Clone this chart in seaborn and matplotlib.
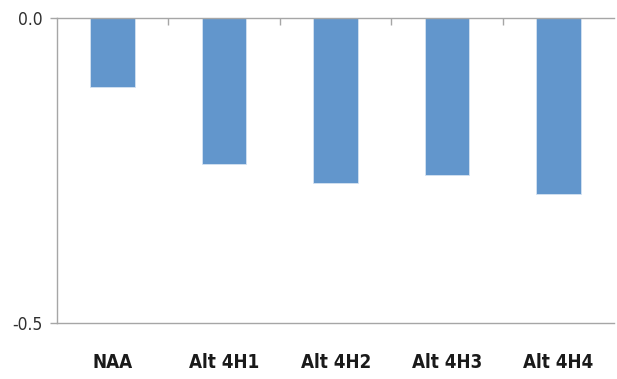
import matplotlib
matplotlib.use("Agg")
import matplotlib.pyplot as plt
import seaborn as sns

# data
categories = ['NAA', 'Alt 4H1', 'Alt 4H2', 'Alt 4H3', 'Alt 4H4']
values = [-0.113, -0.239, -0.271, -0.258, -0.289]
ytick_values = [0.0, -0.5]
ytick_labels = ['0.0', '-0.5']

sns.set_style('white')
plt.rcParams['font.family'] = ['DejaVu Sans']
plt.rcParams['font.stretch'] = 'condensed'

fig = plt.figure(figsize=(6.17, 3.79), dpi=100)
ax = fig.add_axes([0.0924, 0.1485, 0.9032, 0.8032])

sns.barplot(x=categories, y=values, color='#6296cc', saturation=1,
            width=0.4, edgecolor='#d5e2f2', linewidth=0.6, ax=ax)

ax.set_ylim(-0.5, 0)
ax.set_xlim(-0.5, len(categories) - 0.5)
ax.set_yticks(ytick_values)
ax.set_yticklabels(ytick_labels, fontsize=12.5, color='#303030',
                   fontstretch='condensed')
ax.set_xlabel('')
ax.set_ylabel('')

# category labels at the bottom, far below the plot
ax.tick_params(axis='x', which='major', length=0, pad=22, labelsize=13.5)
for lab in ax.get_xticklabels():
    lab.set_fontweight('bold')
    lab.set_fontstretch('condensed')
    lab.set_color('#1a1a1a')
ax.tick_params(axis='y', length=5, width=1, color='#a6a6a6', pad=5, left=True)

# tick marks between categories on the zero line
ax.set_xticks([0.5, 1.5, 2.5, 3.5], minor=True)
ax.tick_params(axis='x', which='minor', top=True, bottom=False,
               direction='in', length=5, width=1, color='#a6a6a6')

for side in ['top', 'bottom', 'left']:
    ax.spines[side].set_color('#a6a6a6')
    ax.spines[side].set_linewidth(1)
ax.spines['right'].set_visible(False)

fig.savefig('out.png', dpi=100)
